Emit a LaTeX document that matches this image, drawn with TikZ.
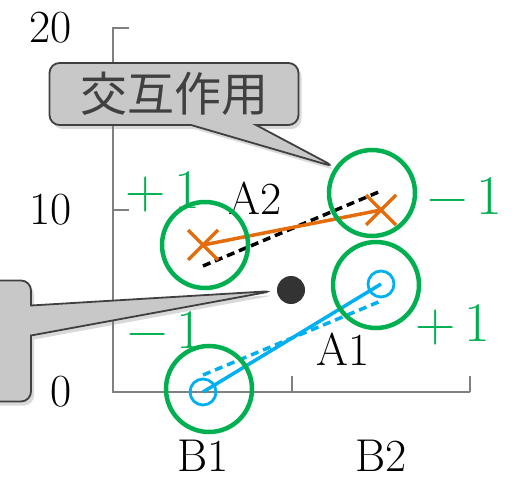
\documentclass[tikz,border=0pt]{standalone}
\usepackage{fontspec}
\newfontfamily\jpfont{Noto Sans CJK JP}
\usetikzlibrary{shapes.callouts,shadows}

\definecolor{effgreen}{RGB}{0,176,80}
\definecolor{afblue}{RGB}{0,176,240}
\definecolor{aforange}{RGB}{228,108,10}
\definecolor{boxgray}{RGB}{200,200,200}
\definecolor{inkgray}{RGB}{64,64,64}
\def\marksize{15}
\def\ringsize{86}

\begin{document}
\begin{tikzpicture}[x=1pt, y=-1pt,
    nodes = {inner sep=0pt, font=\fontsize{46}{46}\selectfont},
    axis/.style = {draw=gray, line width=1.3pt},
    ring/.style = {circle, draw=effgreen, line width=4.5pt, minimum size=\ringsize},
    sign/.style = {text=effgreen, font=\fontsize{56}{56}\selectfont},
    trend/.style = {line width=3.5pt},
    dotted line/.style = {line width=3.5pt, dash pattern=on 8pt off 5pt},
    note/.style = {rectangle callout, rounded corners=10pt, fill=boxgray,
      draw=inkgray, line width=1.8pt,
      drop shadow={opacity=0.3, shadow xshift=3pt, shadow yshift=-4pt}}]
  \useasboundingbox (0,0) rectangle (519,478);
  % axes and ticks
  \draw[axis] (129,28) -- (113,28) -- (113,392) -- (470,392);
  \foreach \y/\v in {28/20, 210/10, 392/0} {
    \draw[axis] (113,\y) -- (129,\y);
    \node[anchor=east] (y\v) at (72,\y) {\v};
  }
  \foreach \x in {292,470}
    \draw[axis] (\x,392) -- (\x,376);
  \foreach \x/\name in {203/B1, 381/B2}
    \node (\name) at (\x,456) {\name};
  % cell means
  \coordinate (a1b1) at (203,392);
  \coordinate (a1b2) at (381,284);
  \coordinate (a2b1) at (203,245);
  \coordinate (a2b2) at (381,210);
  % additive prediction
  \coordinate (p1b1) at (203,375);
  \coordinate (p1b2) at (381,301);
  \coordinate (p2b1) at (203,266);
  \coordinate (p2b2) at (381,191);
  \draw[dotted line, afblue] (p1b1) -- (p1b2);
  \draw[dotted line, black] (p2b1) -- (p2b2);
  \draw[trend, afblue] (a1b1) -- (a1b2);
  \draw[trend, aforange] (a2b1) -- (a2b2);
  \foreach \p in {a1b1,a1b2}
    \draw[afblue, line width=2.8pt] (\p) circle[radius=13];
  \foreach \p in {a2b1,a2b2}
    \draw[trend, aforange] (\p) ++(-\marksize,-\marksize) -- ++(2*\marksize,2*\marksize)
      (\p) ++(-\marksize,\marksize) -- ++(2*\marksize,-2*\marksize);
  \node (A2) at (255,198) {A2};
  \node (A1) at (343,349) {A1};
  % deviations
  \foreach \i/\x/\y/\sx/\sy/\s in {1/205/245/163/192/+, 2/372/193/465/196/−,
      3/209/389/165/330/−, 4/376/285/453/325/+} {
    \node[ring] (r\i) at (\x,\y) {};
    \node[sign] (s\i) at (\sx,\sy) {\s\,1};
  }
  % callouts
  \node[note, text=inkgray, font=\jpfont\fontsize{47}{47}\selectfont,
    minimum width=249, minimum height=62, callout pointer width=65,
    callout absolute pointer={(335,167)}] (inter) at (174,94) {交互作用};
  \node[note, minimum width=400, minimum height=121, callout pointer width=30,
    callout absolute pointer={(273,291)}] (aside) at (-169,341) {};
  \node[circle, fill=black!80, minimum size=28] (mean) at (291,290) {};
\end{tikzpicture}
\end{document}
